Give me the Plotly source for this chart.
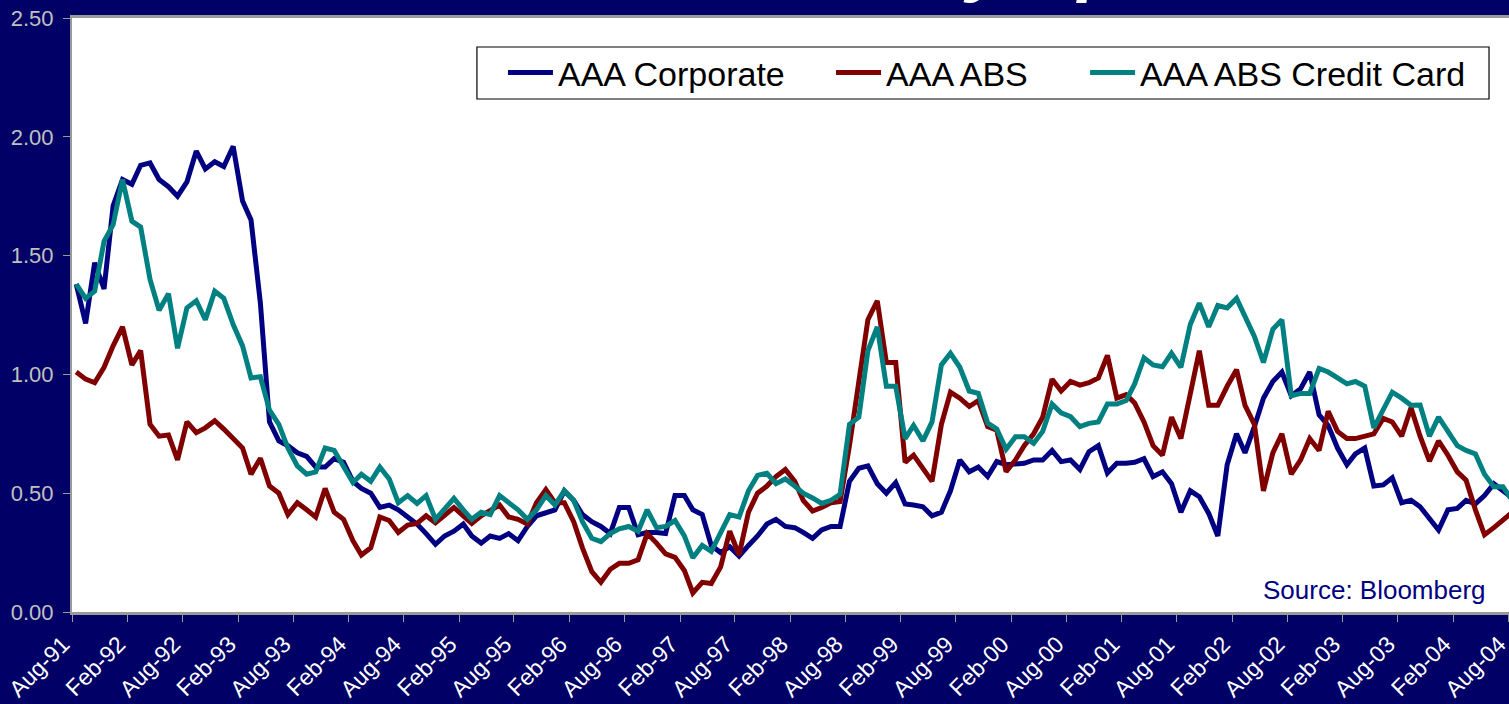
import pandas as pd
import plotly.graph_objects as go

# Mid-month observations, Aug-1991 through Aug-2004 (spread, %)
dates = pd.date_range("1991-08-01", periods=157, freq="MS") + pd.Timedelta(days=14)

aaa_corporate = [
    1.38, 1.215, 1.47, 1.36, 1.71, 1.82, 1.80, 1.88, 1.89, 1.82,
    1.79, 1.75, 1.81, 1.94, 1.865, 1.895, 1.875, 1.96, 1.73, 1.65,
    1.30, 0.80, 0.72, 0.70, 0.67, 0.655, 0.61, 0.61, 0.645, 0.63,
    0.55, 0.52, 0.50, 0.44, 0.45, 0.43, 0.40, 0.37, 0.33, 0.285,
    0.32, 0.34, 0.37, 0.32, 0.29, 0.32, 0.31, 0.33, 0.30, 0.36,
    0.405, 0.415, 0.43, 0.51, 0.47, 0.41, 0.38, 0.36, 0.33, 0.44,
    0.44, 0.325, 0.335, 0.335, 0.33, 0.49, 0.49, 0.43, 0.41, 0.28,
    0.25, 0.275, 0.235, 0.28, 0.32, 0.37, 0.39, 0.36, 0.355, 0.335,
    0.31, 0.345, 0.36, 0.36, 0.55, 0.605, 0.615, 0.54, 0.50, 0.545,
    0.455, 0.45, 0.443, 0.405, 0.42, 0.51, 0.64, 0.59, 0.61, 0.57,
    0.633, 0.62, 0.625, 0.626, 0.64, 0.64, 0.68, 0.633, 0.64, 0.60,
    0.675, 0.70, 0.585, 0.626, 0.626, 0.63, 0.645, 0.57, 0.59, 0.54,
    0.42, 0.51, 0.485, 0.415, 0.32, 0.62, 0.75, 0.67, 0.78, 0.90,
    0.97, 1.01, 0.91, 0.94, 1.01, 0.83, 0.785, 0.69, 0.62, 0.665,
    0.69, 0.53, 0.535, 0.565, 0.46, 0.47, 0.443, 0.39, 0.345, 0.43,
    0.436, 0.47, 0.455, 0.49, 0.54, 0.51, 0.48,
]

aaa_abs = [
    1.01, 0.98, 0.965, 1.03, 1.12, 1.20, 1.04, 1.10, 0.79, 0.74,
    0.745, 0.64, 0.80, 0.755, 0.775, 0.805, 0.77, 0.73, 0.69, 0.58,
    0.647, 0.53, 0.50, 0.41, 0.46, 0.43, 0.40, 0.52, 0.42, 0.39,
    0.30, 0.24, 0.27, 0.40, 0.385, 0.335, 0.366, 0.373, 0.405, 0.375,
    0.41, 0.44, 0.405, 0.373, 0.405, 0.43, 0.45, 0.40, 0.39, 0.37,
    0.46, 0.515, 0.46, 0.46, 0.38, 0.27, 0.17, 0.125, 0.18, 0.205,
    0.205, 0.22, 0.33, 0.29, 0.245, 0.23, 0.175, 0.08, 0.125, 0.12,
    0.19, 0.34, 0.24, 0.42, 0.50, 0.53, 0.57, 0.60, 0.55, 0.47,
    0.425, 0.44, 0.46, 0.465, 0.70, 0.97, 1.23, 1.31, 1.05, 1.05,
    0.63, 0.66, 0.60, 0.55, 0.79, 0.925, 0.90, 0.865, 0.89, 0.78,
    0.765, 0.59, 0.64, 0.70, 0.75, 0.82, 0.98, 0.93, 0.97, 0.955,
    0.965, 0.985, 1.08, 0.90, 0.915, 0.88, 0.80, 0.70, 0.66, 0.82,
    0.73, 0.93, 1.10, 0.87, 0.87, 0.95, 1.02, 0.87, 0.79, 0.51,
    0.67, 0.75, 0.58, 0.64, 0.73, 0.68, 0.845, 0.76, 0.73, 0.73,
    0.74, 0.75, 0.815, 0.80, 0.74, 0.86, 0.74, 0.635, 0.72, 0.66,
    0.59, 0.555, 0.43, 0.325, 0.355, 0.39, 0.42,
]

aaa_abs_credit_card = [
    1.38, 1.32, 1.35, 1.56, 1.63, 1.82, 1.645, 1.62, 1.40, 1.27,
    1.34, 1.11, 1.28, 1.31, 1.23, 1.35, 1.32, 1.21, 1.12, 0.985,
    0.99, 0.85, 0.79, 0.69, 0.615, 0.58, 0.59, 0.69, 0.68, 0.61,
    0.545, 0.58, 0.55, 0.61, 0.56, 0.46, 0.49, 0.457, 0.49, 0.39,
    0.43, 0.478, 0.43, 0.39, 0.42, 0.41, 0.49, 0.46, 0.43, 0.39,
    0.43, 0.49, 0.45, 0.51, 0.47, 0.38, 0.31, 0.296, 0.33, 0.35,
    0.36, 0.34, 0.43, 0.355, 0.36, 0.385, 0.32, 0.228, 0.28, 0.255,
    0.33, 0.41, 0.40, 0.51, 0.575, 0.584, 0.54, 0.56, 0.53, 0.50,
    0.48, 0.457, 0.47, 0.495, 0.79, 0.82, 1.10, 1.20, 0.95, 0.95,
    0.73, 0.785, 0.72, 0.80, 1.04, 1.089, 1.03, 0.93, 0.92, 0.795,
    0.77, 0.685, 0.738, 0.738, 0.71, 0.76, 0.875, 0.838, 0.822, 0.78,
    0.794, 0.80, 0.875, 0.875, 0.89, 0.96, 1.07, 1.04, 1.032, 1.089,
    1.03, 1.21, 1.30, 1.20, 1.29, 1.28, 1.32, 1.24, 1.16, 1.05,
    1.19, 1.23, 0.91, 0.92, 0.92, 1.025, 1.01, 0.985, 0.96, 0.97,
    0.95, 0.775, 0.85, 0.925, 0.90, 0.87, 0.871, 0.74, 0.82, 0.76,
    0.70, 0.68, 0.665, 0.58, 0.527, 0.527, 0.47,
]

tick_dates = [
    "1991-08-01", "1992-02-01", "1992-08-01", "1993-02-01", "1993-08-01",
    "1994-02-01", "1994-08-01", "1995-02-01", "1995-08-01", "1996-02-01",
    "1996-08-01", "1997-02-01", "1997-08-01", "1998-02-01", "1998-08-01",
    "1999-02-01", "1999-08-01", "2000-02-01", "2000-08-01", "2001-02-01",
    "2001-08-01", "2002-02-01", "2002-08-01", "2003-02-01", "2003-08-01",
    "2004-02-01", "2004-08-01",
]
tick_labels = [
    "Aug-91", "Feb-92", "Aug-92", "Feb-93", "Aug-93", "Feb-94", "Aug-94",
    "Feb-95", "Aug-95", "Feb-96", "Aug-96", "Feb-97", "Aug-97", "Feb-98",
    "Aug-98", "Feb-99", "Aug-99", "Feb-00", "Aug-00", "Feb-01", "Aug-01",
    "Feb-02", "Aug-02", "Feb-03", "Aug-03", "Feb-04", "Aug-04",
]
y_ticks = [0.0, 0.5, 1.0, 1.5, 2.0, 2.5]

series = [
    ("AAA Corporate", aaa_corporate, "#000080", "legend"),
    ("AAA ABS", aaa_abs, "#800000", "legend2"),
    ("AAA ABS Credit Card", aaa_abs_credit_card, "#008080", "legend3"),
]

FONT = "Arial, Liberation Sans, sans-serif"
NAVY_BG = "#000066"
AXIS_GREY = "#9a9a9a"

fig = go.Figure()
for name, values, color, legend_id in series:
    fig.add_trace(go.Scatter(
        x=dates, y=values, name=name, mode="lines",
        line=dict(color=color, width=5),
        legend=legend_id, showlegend=True,
    ))

# one boxed legend row, assembled from three single-entry legends
legend_common = dict(
    orientation="h", xanchor="left", yanchor="middle", y=0.9074,
    bgcolor="rgba(0,0,0,0)", borderwidth=0, itemwidth=45,
    font=dict(family=FONT, size=34, color="#000000"),
)
fig.update_layout(
    showlegend=True,
    legend=dict(x=0.2999, **legend_common),
    legend2=dict(x=0.5282, **legend_common),
    legend3=dict(x=0.7050, **legend_common),
)

fig.add_shape(
    type="rect", xref="paper", yref="paper",
    x0=0.2818, x1=0.9861, y0=0.8636, y1=0.9512,
    fillcolor="#ffffff", line=dict(color="#000000", width=1.2), layer="above",
)

fig.add_annotation(
    text="Source: Bloomberg", xref="paper", yref="paper",
    x=0.9854, y=0.037, xanchor="right", yanchor="middle", showarrow=False,
    font=dict(family=FONT, size=26, color="#000080"),
)

# slide title sitting above the chart frame
fig.add_annotation(
    text="<b><i>AAA Weekly Spreads</i></b>", xref="paper", yref="paper",
    x=(572 - 72) / 1437, y=1.021, xanchor="left", yanchor="bottom", showarrow=False,
    font=dict(family=FONT, size=74, color="#ffffff"),
)

fig.update_xaxes(
    type="date", range=["1991-08-01", "2004-08-04"],
    tickvals=tick_dates, ticktext=tick_labels, tickangle=-45,
    tickfont=dict(family=FONT, size=23, color="#ffffff"),
    ticks="outside", ticklen=7, tickcolor=AXIS_GREY, tickwidth=1,
    ticklabelstandoff=0, ticklabelshift=-9, ticklabeloverflow="allow",
    automargin=False,
    showline=True, linecolor=AXIS_GREY, linewidth=2.5, mirror=True,
    showgrid=False, zeroline=False,
)
fig.update_yaxes(
    range=[0, 2.5], tickvals=y_ticks, tickformat=".2f",
    tickfont=dict(family=FONT, size=22, color="#c0c0c0"),
    ticks="outside", ticklen=7, tickcolor=AXIS_GREY, tickwidth=1,
    showline=True, linecolor=AXIS_GREY, linewidth=2, mirror=False,
    showgrid=False, zeroline=False, ticklabelstandoff=5, automargin=False,
)

fig.update_layout(
    width=1509, height=704, autosize=False,
    paper_bgcolor=NAVY_BG, plot_bgcolor="#ffffff",
    margin=dict(l=72, r=0, t=18, b=92, autoexpand=False),
    font=dict(family=FONT),
)

fig.write_html("out.html")
